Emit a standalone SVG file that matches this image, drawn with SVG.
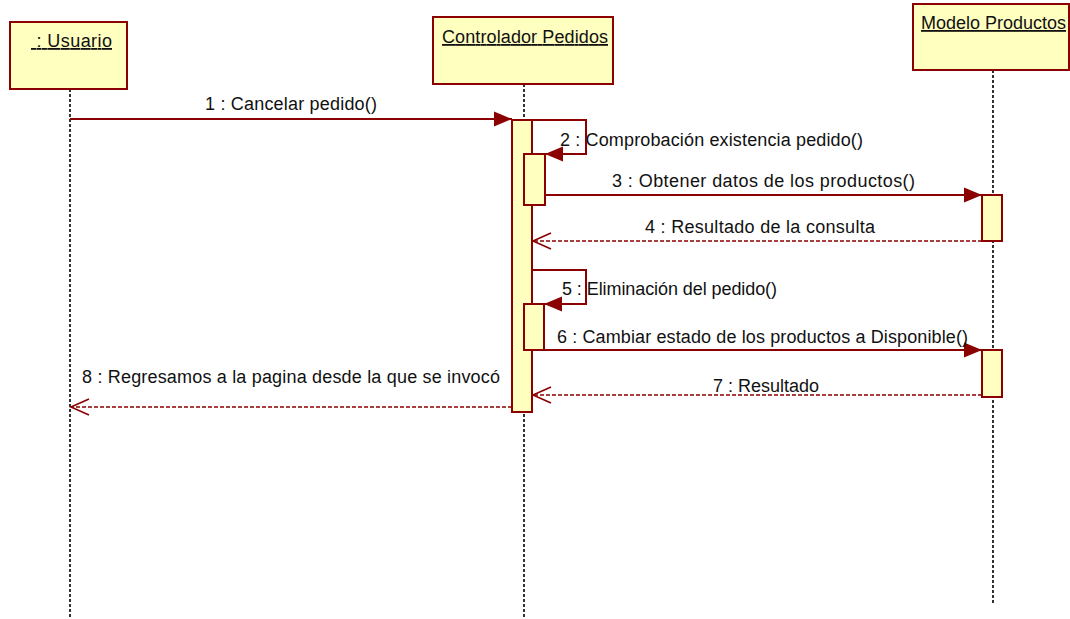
<svg xmlns="http://www.w3.org/2000/svg" width="1070" height="619" viewBox="0 0 1070 619">
<style>
.box{fill:#ffffc0;stroke:#8b0000;stroke-width:2}
.act{fill:#ffffc0;stroke:#8b0000;stroke-width:2}
.life{stroke:#000;stroke-width:1.6;stroke-dasharray:3 2;fill:none}
.msg{stroke:#8b0000;stroke-width:2;fill:none}
.ret{stroke:#8b0000;stroke-width:1.6;stroke-dasharray:4 2;fill:none}
text{font-family:"Liberation Sans",Arial,sans-serif;font-size:18px;fill:#111;white-space:pre}
.title{text-decoration:underline}
</style>
<defs>
<marker id="filled" markerUnits="userSpaceOnUse" markerWidth="19" markerHeight="16" refX="18" refY="7.5" orient="auto" overflow="visible">
<path d="M0,0 L18,7.5 L0,15 Z" fill="#8b0000"/>
</marker>
<marker id="open" markerUnits="userSpaceOnUse" markerWidth="19" markerHeight="18" refX="18" refY="8" orient="auto" overflow="visible">
<path d="M0,0 L18,8 L0,16" fill="none" stroke="#8b0000" stroke-width="1.6"/>
</marker>
</defs>
<g id="usuario">
<line class="life" x1="70" y1="89" x2="70" y2="619"/>
<rect class="box" x="10" y="22" width="117" height="67"/>
<text class="title" x="31" y="47" textLength="81" lengthAdjust="spacing"> : Usuario</text>
</g>
<g id="controlador">
<line class="life" x1="524" y1="84" x2="524" y2="617"/>
<rect class="box" x="433" y="17" width="180" height="67"/>
<text class="title" x="442" y="43" textLength="166" lengthAdjust="spacing">Controlador Pedidos</text>
<rect class="act" x="512" y="120" width="20" height="292"/>
<rect class="act" x="524" y="154" width="21" height="51"/>
<rect class="act" x="524" y="304" width="20" height="46"/>
</g>
<g id="modelo">
<line class="life" x1="993" y1="70" x2="993" y2="603"/>
<rect class="box" x="913" y="4" width="156" height="66"/>
<text class="title" x="921" y="29" textLength="145" lengthAdjust="spacing">Modelo Productos</text>
<rect class="act" x="982" y="195" width="20" height="46"/>
<rect class="act" x="982" y="350" width="20" height="47"/>
</g>
<g id="connectors">
<line class="msg" x1="70" y1="119" x2="512" y2="119" marker-end="url(#filled)"/>
<text x="205" y="110" textLength="172" lengthAdjust="spacing">1 : Cancelar pedido()</text>
<path class="msg" d="M532,120 H586 V154 H545" marker-end="url(#filled)"/>
<text x="560" y="146" textLength="303" lengthAdjust="spacing">2 : Comprobación existencia pedido()</text>
<line class="msg" x1="545" y1="195" x2="982" y2="195" marker-end="url(#filled)"/>
<text x="612" y="187" textLength="303" lengthAdjust="spacing">3 : Obtener datos de los productos()</text>
<line class="ret" x1="982" y1="241" x2="533" y2="241" marker-end="url(#open)"/>
<text x="645" y="233" textLength="230" lengthAdjust="spacing">4 : Resultado de la consulta</text>
<path class="msg" d="M532,270 H586 V304 H544" marker-end="url(#filled)"/>
<text x="562" y="295" textLength="215" lengthAdjust="spacing">5 : Eliminación del pedido()</text>
<line class="msg" x1="544" y1="350" x2="982" y2="350" marker-end="url(#filled)"/>
<text x="557" y="343" textLength="411" lengthAdjust="spacing">6 : Cambiar estado de los productos a Disponible()</text>
<line class="ret" x1="982" y1="395" x2="533" y2="395" marker-end="url(#open)"/>
<text x="766" y="392" text-anchor="middle">7 : Resultado</text>
<line class="ret" x1="512" y1="407" x2="71" y2="407" marker-end="url(#open)"/>
<text x="82" y="383" textLength="418" lengthAdjust="spacing">8 : Regresamos a la pagina desde la que se invocó</text>
</g>
</svg>
